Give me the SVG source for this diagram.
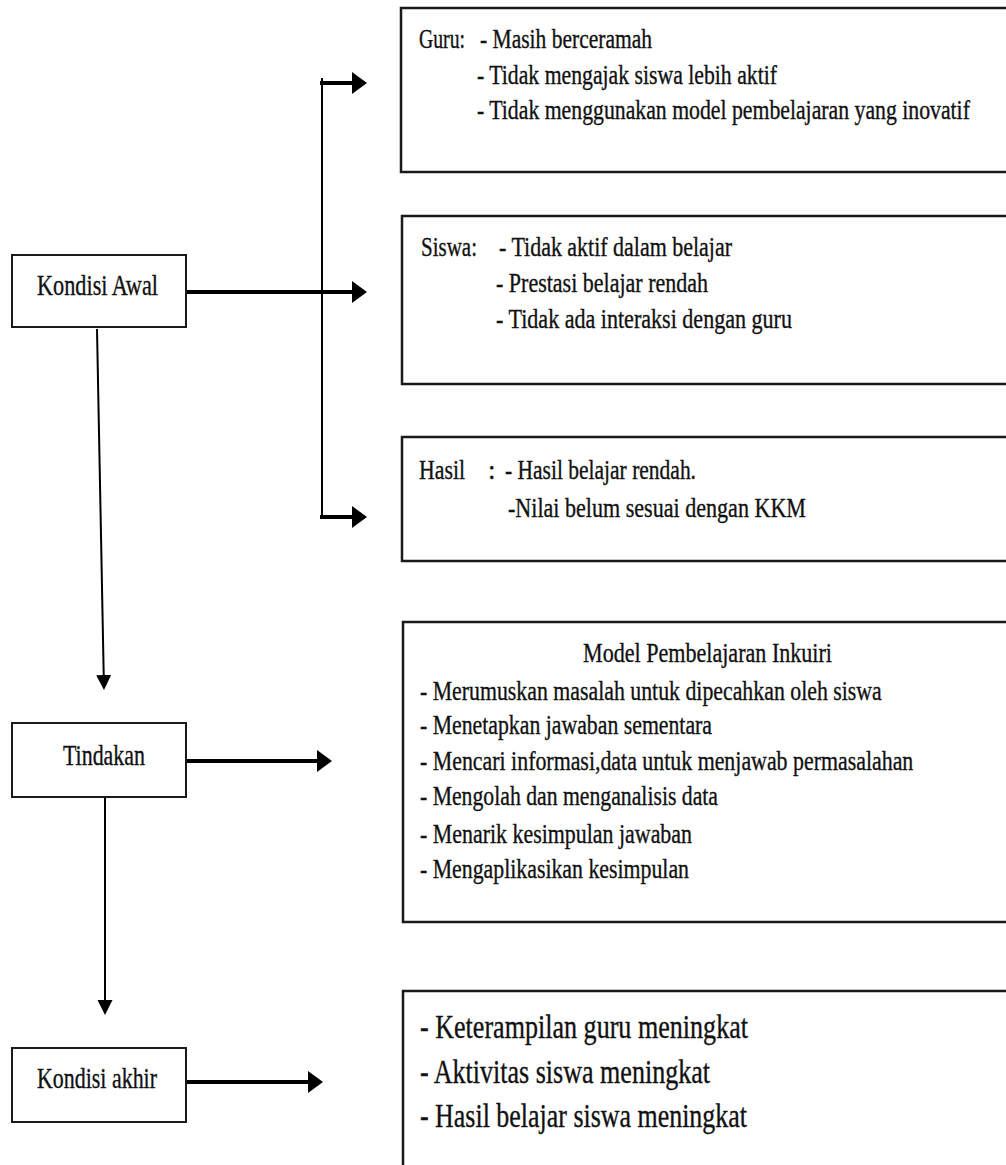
<svg xmlns="http://www.w3.org/2000/svg" width="1006" height="1165" viewBox="0 0 1006 1165">
<style>
.bx{fill:#fff;stroke:#1a1a1a;stroke-width:2.5}
.lb{fill:#fff;stroke:#1a1a1a;stroke-width:2}
.t{font-family:"Liberation Serif","Times New Roman",serif;fill:#111;stroke:#111;stroke-width:0.35}
.s27{font-size:27px}
.s28{font-size:28px}
.s29{font-size:29px}
.s34{font-size:34px}
.thick{stroke:#000;stroke-width:4;fill:none}
.thin{stroke:#000;stroke-width:2;fill:none}
</style>
<defs>
<marker id="big" markerUnits="userSpaceOnUse" markerWidth="16" markerHeight="23" refX="0" refY="11" orient="auto">
<path d="M0,0 L15,11 L0,22 z" fill="#000"/>
</marker>
<marker id="small" markerUnits="userSpaceOnUse" markerWidth="16" markerHeight="16" refX="0" refY="7.5" orient="auto">
<path d="M0,0 L15,7.5 L0,15 z" fill="#000"/>
</marker>
</defs>
<rect width="1006" height="1165" fill="#fff"/>

<g id="connectors">
<line class="thin" x1="322" y1="78" x2="322" y2="519"/>
<line class="thick" x1="320" y1="83" x2="352" y2="83" marker-end="url(#big)"/>
<line class="thick" x1="174" y1="292" x2="352" y2="292" marker-end="url(#big)"/>
<line class="thick" x1="320" y1="517" x2="352" y2="517" marker-end="url(#big)"/>
<line class="thin" x1="97" y1="329" x2="103.7" y2="675" marker-end="url(#small)"/>
<line class="thick" x1="179" y1="761" x2="317" y2="761" marker-end="url(#big)"/>
<line class="thin" x1="105" y1="797" x2="105" y2="1000" marker-end="url(#small)"/>
<line class="thick" x1="186" y1="1082" x2="308" y2="1082" marker-end="url(#big)"/>
</g>

<g id="kondisi-awal">
<rect class="lb" x="12" y="255" width="174" height="72"/>
<text class="t s29" x="37" y="295" textLength="121" lengthAdjust="spacingAndGlyphs">Kondisi Awal</text>
</g>

<g id="tindakan">
<rect class="lb" x="12" y="723" width="174" height="74"/>
<text class="t s29" x="63" y="765" textLength="82" lengthAdjust="spacingAndGlyphs">Tindakan</text>
</g>

<g id="kondisi-akhir">
<rect class="lb" x="12" y="1048" width="174" height="74"/>
<text class="t s29" x="37" y="1088" textLength="120" lengthAdjust="spacingAndGlyphs">Kondisi akhir</text>
</g>

<g id="guru">
<rect class="bx" x="401" y="8" width="620" height="164"/>
<text class="t s27" x="419" y="48" textLength="46" lengthAdjust="spacingAndGlyphs">Guru:</text>
<text class="t s27" x="480" y="48" textLength="172" lengthAdjust="spacingAndGlyphs">- Masih berceramah</text>
<text class="t s27" x="477" y="84" textLength="300" lengthAdjust="spacingAndGlyphs">- Tidak mengajak siswa lebih aktif</text>
<text class="t s27" transform="translate(477,119) scale(0.808,1)" x="0" y="0" textLength="610" lengthAdjust="spacingAndGlyphs">- Tidak menggunakan model pembelajaran yang inovatif</text>
</g>

<g id="siswa">
<rect class="bx" x="402" y="216" width="620" height="168"/>
<text class="t s27" x="421" y="256" textLength="56" lengthAdjust="spacingAndGlyphs">Siswa:</text>
<text class="t s27" x="499" y="256" textLength="233" lengthAdjust="spacingAndGlyphs">- Tidak aktif dalam belajar</text>
<text class="t s27" x="496" y="292" textLength="212" lengthAdjust="spacingAndGlyphs">- Prestasi belajar rendah</text>
<text class="t s27" x="496" y="328" textLength="296" lengthAdjust="spacingAndGlyphs">- Tidak ada interaksi dengan guru</text>
</g>

<g id="hasil">
<rect class="bx" x="402" y="437" width="620" height="124"/>
<text class="t s27" x="419" y="479" textLength="46" lengthAdjust="spacingAndGlyphs">Hasil</text>
<text class="t s27" x="488" y="479">:</text>
<text class="t s27" x="505" y="479" textLength="191" lengthAdjust="spacingAndGlyphs">- Hasil belajar rendah.</text>
<text class="t s27" x="508" y="517" textLength="298" lengthAdjust="spacingAndGlyphs">-Nilai belum sesuai dengan KKM</text>
</g>

<g id="model-inkuiri">
<rect class="bx" x="403" y="622" width="620" height="300"/>
<text class="t s28" x="583" y="662" textLength="249" lengthAdjust="spacingAndGlyphs">Model Pembelajaran Inkuiri</text>
<text class="t s28" transform="translate(420,700) scale(0.78,1)" x="0" y="0" textLength="592" lengthAdjust="spacingAndGlyphs">- Merumuskan masalah untuk dipecahkan oleh siswa</text>
<text class="t s28" x="420" y="734" textLength="292" lengthAdjust="spacingAndGlyphs">- Menetapkan jawaban sementara</text>
<text class="t s28" transform="translate(420,770) scale(0.783,1)" x="0" y="0" textLength="630" lengthAdjust="spacingAndGlyphs">- Mencari informasi,data untuk menjawab permasalahan</text>
<text class="t s28" x="420" y="805" textLength="298" lengthAdjust="spacingAndGlyphs">- Mengolah dan menganalisis data</text>
<text class="t s28" x="420" y="843" textLength="272" lengthAdjust="spacingAndGlyphs">- Menarik kesimpulan jawaban</text>
<text class="t s28" x="420" y="878" textLength="269" lengthAdjust="spacingAndGlyphs">- Mengaplikasikan kesimpulan</text>
</g>

<g id="hasil-akhir">
<rect class="bx" x="403" y="991" width="620" height="200"/>
<text class="t s34" x="420" y="1038" textLength="328" lengthAdjust="spacingAndGlyphs">- Keterampilan guru meningkat</text>
<text class="t s34" x="420" y="1083" textLength="290" lengthAdjust="spacingAndGlyphs">- Aktivitas siswa meningkat</text>
<text class="t s34" x="420" y="1127" textLength="327" lengthAdjust="spacingAndGlyphs">- Hasil belajar siswa meningkat</text>
</g>
</svg>
